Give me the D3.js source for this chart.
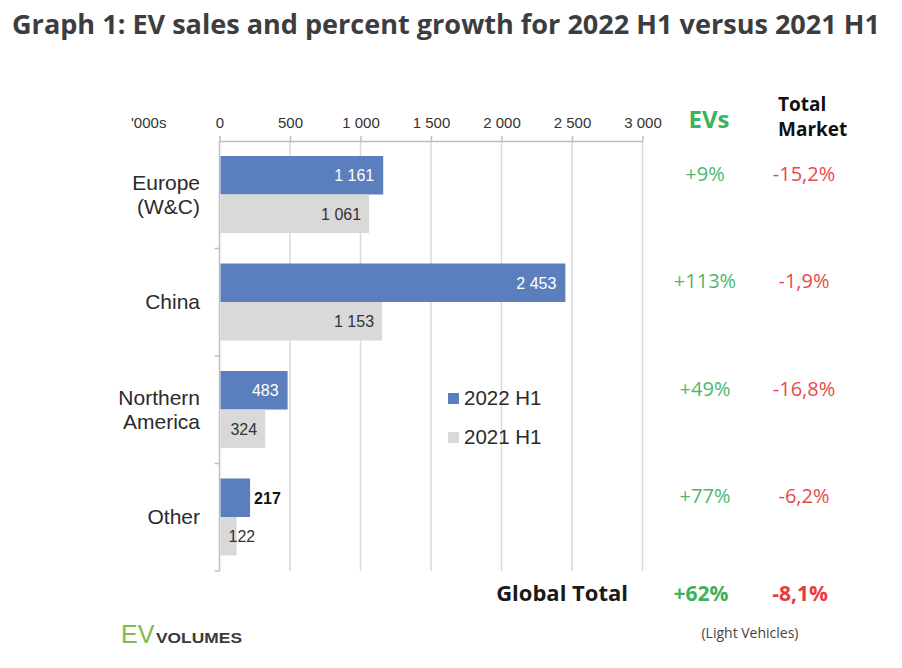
<!DOCTYPE html>
<html><head><meta charset="utf-8">
<script src="https://cdn.jsdelivr.net/npm/d3@7"></script>
<style>body{margin:0;background:#fff}</style></head>
<body>
<svg id="c" width="902" height="668"></svg>
<script>
// ---- data ----
const categories = ["Europe (W&C)", "China", "Northern America", "Other"];
const categoryLines = [["Europe", "(W&C)"], ["China"], ["Northern", "America"], ["Other"]];
const seriesNames = ["2022 H1", "2021 H1"];
const values2022 = [1161, 2453, 483, 217];
const values2021 = [1061, 1153, 324, 122];
const evGrowth = ["+9%", "+113%", "+49%", "+77%"];
const marketGrowth = ["-15,2%", "-1,9%", "-16,8%", "-6,2%"];
const globalEV = "+62%";
const globalMarket = "-8,1%";
const xTicks = [0, 500, 1000, 1500, 2000, 2500, 3000];

// ---- setup ----
const svg = d3.select("#c");
const BLUE = "#5b7fbc", GREY = "#d9d9d9", GREEN = "#4cb86b", RED = "#e9494c";
const sans = "'Liberation Sans', Arial, sans-serif";
const open = "'Open Sans', sans-serif";
const fmt = v => d3.format(",")(v).replace(/,/g, " ");

const x = d3.scaleLinear().domain([0, 3000]).range([219.5, 642.5]);
const y = d3.scaleBand().domain(categories).range([141, 571]).paddingInner(0).paddingOuter(0);
const ySub = d3.scaleBand().domain(seriesNames).range([15, y.bandwidth() - 15.5]).padding(0);

// title
svg.append("text").attr("x", 12).attr("y", 34)
  .attr("font-family", open).attr("font-weight", 700).attr("font-size", 26)
  .attr("fill", "#3d3d3f").attr("textLength", 868).attr("lengthAdjust", "spacingAndGlyphs")
  .text("Graph 1: EV sales and percent growth for 2022 H1 versus 2021 H1");

// gridlines
svg.append("g").selectAll("line").data(xTicks.slice(1)).join("line")
  .attr("x1", d => x(d)).attr("x2", d => x(d))
  .attr("y1", 141).attr("y2", 571)
  .attr("stroke", "#d9d9d9").attr("stroke-width", 1.5);

// top axis
const ax = svg.append("g").attr("transform", "translate(0,141)")
  .call(d3.axisTop(x).tickValues(xTicks).tickSize(5).tickSizeOuter(0).tickFormat(fmt).tickPadding(8));
ax.select(".domain").attr("stroke", "#bfbfbf").attr("stroke-width", 1.5);
ax.selectAll(".tick line").attr("stroke", "#bfbfbf").attr("stroke-width", 1.5);
ax.selectAll(".tick text").attr("font-family", sans).attr("font-size", 15).attr("fill", "#333");

svg.append("text").attr("x", 131).attr("y", 128)
  .attr("font-family", sans).attr("font-size", 15).attr("fill", "#333").text("'000s");

// left axis
const la = svg.append("g");
la.append("line").attr("x1", x(0)).attr("x2", x(0)).attr("y1", 141).attr("y2", 571)
  .attr("stroke", "#bfbfbf").attr("stroke-width", 1.5);
const bounds = categories.map(c => y(c)).concat([y.range()[1]]);
la.selectAll("line.t").data(bounds.slice(1)).join("line").attr("class", "t")
  .attr("x1", x(0) - 5).attr("x2", x(0)).attr("y1", d => d).attr("y2", d => d)
  .attr("stroke", "#bfbfbf").attr("stroke-width", 1.5);

// category labels
categories.forEach((c, i) => {
  const cy = y(c) + y.bandwidth() / 2;
  const lines = categoryLines[i];
  const t = svg.append("text").attr("text-anchor", "end")
    .attr("font-family", sans).attr("font-size", 21).attr("fill", "#2b2b2b");
  lines.forEach((l, j) => {
    const base = lines.length === 1 ? cy + 7 : cy - 5 + j * 24;
    t.append("tspan").attr("x", 200).attr("y", base).text(l);
  });
});

// bars
const seriesVals = [values2022, values2021];
const seriesColors = [BLUE, GREY];
seriesVals.forEach((vals, s) => {
  const g = svg.append("g");
  g.selectAll("rect").data(categories).join("rect")
    .attr("x", x(0) + 1)
    .attr("y", c => y(c) + ySub(seriesNames[s]))
    .attr("width", (c, i) => x(vals[i]) - x(0) - 1)
    .attr("height", ySub.bandwidth())
    .attr("fill", seriesColors[s]);
  categories.forEach((c, i) => {
    const v = vals[i];
    const by = y(c) + ySub(seriesNames[s]) + ySub.bandwidth() / 2 + 6;
    const t = g.append("text").attr("font-family", sans).attr("font-size", 16).attr("y", by).text(fmt(v));
    const w = t.node().getComputedTextLength();
    const end = x(v);
    if (s === 0) {
      if (end - x(0) > w + 16) {
        t.attr("x", end - 9).attr("text-anchor", "end").attr("fill", "#fff");
      } else {
        t.attr("x", end + 4).attr("text-anchor", "start").attr("fill", "#111").attr("font-weight", 700);
      }
    } else {
      const xr = end - 8;
      if (xr - w < x(0) + 8) {
        t.attr("x", x(0) + 9).attr("text-anchor", "start");
      } else {
        t.attr("x", xr).attr("text-anchor", "end");
      }
      t.attr("fill", "#333");
    }
  });
});

// legend
const leg = svg.append("g");
seriesNames.forEach((n, i) => {
  const ly = 405 + i * 39;
  leg.append("rect").attr("x", 448).attr("y", ly - 12).attr("width", 11).attr("height", 11).attr("fill", seriesColors[i]);
  leg.append("text").attr("x", 464).attr("y", ly).attr("font-family", sans).attr("font-size", 20.5)
    .attr("fill", "#2b2b2b").text(n);
});

// right columns
svg.append("text").attr("x", 709).attr("y", 128).attr("text-anchor", "middle")
  .attr("font-family", open).attr("font-weight", 700).attr("font-size", 24).attr("fill", "#3db25c").text("EVs");
const tm = svg.append("text").attr("font-family", open).attr("font-weight", 700).attr("font-size", 19).attr("fill", "#111");
tm.append("tspan").attr("x", 778).attr("y", 111).text("Total");
tm.append("tspan").attr("x", 778).attr("y", 136).text("Market");

categories.forEach((c, i) => {
  const cy = y(c) + y.bandwidth() / 2 - 14;
  svg.append("text").attr("x", 705).attr("y", cy).attr("text-anchor", "middle")
    .attr("font-family", open).attr("font-size", 20).attr("fill", GREEN).text(evGrowth[i]);
  svg.append("text").attr("x", 804).attr("y", cy).attr("text-anchor", "middle")
    .attr("font-family", open).attr("font-size", 20).attr("fill", RED).text(marketGrowth[i]);
});

// global total
svg.append("text").attr("x", 628).attr("y", 601).attr("text-anchor", "end")
  .attr("font-family", open).attr("font-weight", 700).attr("font-size", 22).attr("fill", "#1a1a1a").text("Global Total");
svg.append("text").attr("x", 701).attr("y", 601).attr("text-anchor", "middle")
  .attr("font-family", open).attr("font-weight", 700).attr("font-size", 21).attr("fill", "#3db25c").text(globalEV);
svg.append("text").attr("x", 800).attr("y", 601).attr("text-anchor", "middle")
  .attr("font-family", open).attr("font-weight", 700).attr("font-size", 21).attr("fill", "#e63b3e").text(globalMarket);
svg.append("text").attr("x", 750).attr("y", 638).attr("text-anchor", "middle")
  .attr("font-family", open).attr("font-size", 14).attr("fill", "#444").text("(Light Vehicles)");

// logo
svg.append("text").attr("x", 121).attr("y", 643)
  .attr("font-family", sans).attr("font-size", 25).attr("fill", "#7cbc4a").text("EV");
svg.append("text").attr("x", 156).attr("y", 643)
  .attr("font-family", sans).attr("font-weight", 700).attr("font-size", 15).attr("fill", "#3a3a3a")
  .attr("textLength", 86).attr("lengthAdjust", "spacingAndGlyphs").text("VOLUMES");
</script>
</body></html>
